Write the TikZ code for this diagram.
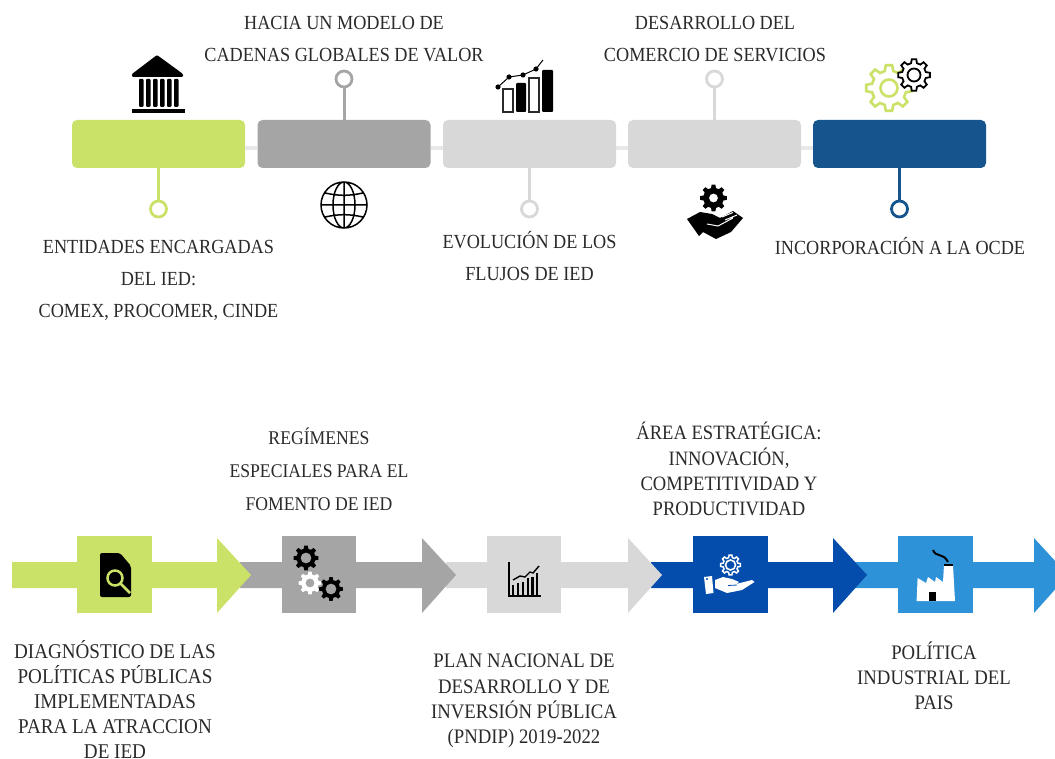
\documentclass[tikz,border=0pt]{standalone}
\usepackage{fontspec}
\setmainfont[FakeStretch=0.91]{Liberation Serif}
\usetikzlibrary{calc}
\definecolor{limeg}{HTML}{CBE268}
\definecolor{midg}{HTML}{A5A5A5}
\definecolor{paleg}{HTML}{D8D8D8}
\definecolor{navyb}{HTML}{15548C}
\definecolor{royalb}{HTML}{044DAD}
\definecolor{skyb}{HTML}{2E92D8}
\definecolor{inkc}{HTML}{2A2A2A}
\tikzset{
  card/.style={fill=#1, rounded corners=5pt, minimum width=173pt, minimum height=48pt, inner sep=0pt},
  sq/.style={fill=#1, minimum width=74.5pt, minimum height=77pt, inner sep=0pt},
  pin/.style={draw=#1, fill=white, circle, line width=2.8pt, minimum size=16pt, inner sep=0pt},
  stem/.style={draw=#1, line width=3pt},
  lnk/.style={draw=paleg!60, line width=4pt},
  lbltop/.style={text=inkc, align=center, font=\fontsize{20}{32}\selectfont},
  lblbot/.style={text=inkc, align=center, font=\fontsize{#1}{25.2}\selectfont}
}
% one gear wheel: style, x, y, radius, hole
\newcommand\gearwheel[5]{\path[#1, even odd rule, shift={(#2,#3)}] (-14:.76*#4)
  \foreach \k in {0,...,7} { -- ({\k*45-14}:.76*#4) -- ({\k*45-8}:#4) -- ({\k*45+8}:#4) -- ({\k*45+14}:.76*#4) } -- cycle
  (0,0) circle[radius=#5];}
% band with a head, drawn from the right so heads lie on the next band
\newcommand\bandarrow[4]{\fill[#4] (#1,562) -- (#2,562) -- (#2,538) -- (#3,575) -- (#2,613) -- (#2,588) -- (#1,588) -- cycle;}
\begin{document}
\begin{tikzpicture}[x=1pt, y=-1pt]
\useasboundingbox (0,0) rectangle (1055,759);
\clip (0,0) rectangle (1055,759);
% upper row
\node[card=limeg] (c1) at (158.5,144) {};
\node[card=midg] (c2) at (344,144) {};
\node[card=paleg] (c3) at (529.5,144) {};
\node[card=paleg] (c4) at (714.5,144) {};
\node[card=navyb] (c5) at (899.5,144) {};
\draw[lnk] ([yshift=-4pt]c1.east) -- ([yshift=-4pt]c2.west);
\draw[lnk] ([yshift=-4pt]c2.east) -- ([yshift=-4pt]c3.west);
\draw[lnk] ([yshift=-4pt]c3.east) -- ([yshift=-4pt]c4.west);
\draw[lnk] ([yshift=-4pt]c4.east) -- ([yshift=-4pt]c5.west);
\node[pin=limeg] (p1) at (158.5,209) {};
\node[pin=midg] (p2) at (344,79) {};
\node[pin=paleg] (p3) at (529.5,209) {};
\node[pin=paleg] (p4) at (714.5,79) {};
\node[pin=navyb] (p5) at (899.5,209) {};
\draw[stem=limeg] (c1.south) -- (p1);
\draw[stem=midg] (c2.north) -- (p2);
\draw[stem=paleg] (c3.south) -- (p3);
\draw[stem=paleg] (c4.north) -- (p4);
\draw[stem=navyb] (c5.south) -- (p5);
\node[lbltop] (t2) at (344,39) {HACIA UN MODELO DE\\CADENAS GLOBALES DE VALOR};
\node[lbltop] (t4) at (715,39) {DESARROLLO DEL\\COMERCIO DE SERVICIOS};
\node[lbltop] (t1) at (158.5,280.5) {ENTIDADES ENCARGADAS\\DEL IED:\\COMEX, PROCOMER, CINDE};
\node[lbltop] (t3) at (529.5,256.5) {EVOLUCIÓN DE LOS\\FLUJOS DE IED};
\node[lbltop] (t5) at (900,246) {INCORPORACIÓN A LA OCDE};
% bank
\fill[rounded corners=1pt] (157,55) -- (183,74) -- (183,77) -- (132,77) -- (132,74) -- cycle;
\foreach \x in {139,146,153,160,167,174} \fill[rounded corners=1pt] (\x,79) rectangle +(4.5,28);
\fill (132,109.5) rectangle (185,113.5);
% globe
\draw[line width=1.5pt] (344,205) circle[radius=23] (344,182) -- (344,228) (321,205) -- (367,205)
  (344,205) ellipse[x radius=11, y radius=23]
  (325,193) to[bend right=12] (363,193) (325,217) to[bend left=12] (363,217);
% bars
\draw[draw=inkc, line width=1.4pt] (503,89) rectangle (513,112) (529,78) rectangle (539,112);
\fill[rounded corners=1pt] (516,83) rectangle (526,112) (542,70) rectangle (553,112);
\draw[line width=1pt] (498,87) -- (509,77) -- (523,75) -- (536,69) -- (543,60);
\foreach \x/\y in {498/87,509/77,523/75,536/69} \fill (\x,\y) circle[radius=2.6];
% hand under gear
\gearwheel{fill=black}{713.5}{198}{13.5}{4.5}
\fill (687,219) -- (700,212) -- (712,214) -- (720,218) -- (733,211) -- (743,218) -- (731,232)
  -- (716,239) -- (703,232) -- (699,236) -- cycle;
\draw[white, line width=1pt] (707,224) -- (718,226) -- (733,218) (722,217) -- (733,212.5) (725,220) -- (737,215);
% two gears
\gearwheel{draw=limeg, fill=white, line width=2.6pt}{889}{88}{23}{8.5}
\gearwheel{draw=black, fill=white, line width=1.8pt}{914}{75}{16}{6.5}
% lower row, from the right
\bandarrow{855}{1034}{1068}{skyb}
\bandarrow{651}{833}{867}{royalb}
\bandarrow{446}{628}{662}{paleg}
\bandarrow{240}{422}{456}{midg}
\bandarrow{12}{217}{251}{limeg}
\node[sq=limeg] (s1) at (114.5,574.5) {};
\node[sq=midg] (s2) at (319,574.5) {};
\node[sq=paleg] (s3) at (524,574.5) {};
\node[sq=royalb] (s4) at (730.5,574.5) {};
\node[sq=skyb] (s5) at (935.5,574.5) {};
% document
\fill[rounded corners=2pt] (100,553) -- (120,553) -- (131,566) -- (131,597) -- (100,597) -- cycle;
\draw[limeg, line width=2.5pt] (115,578) circle[radius=7.5] (120.5,583.5) -- (130,593);
% three gears
\gearwheel{fill=black}{306}{558}{12.5}{5.5}
\gearwheel{fill=white}{310}{583}{11.5}{4.5}
\gearwheel{fill=black}{331}{589}{12}{5.5}
% chart
\draw[line width=1.5pt] (509,562) -- (509,596) -- (541,596);
\foreach \x/\y in {513/585,518/583,523/582,528/578,532.5/577,537/573} \draw[line width=2.4pt] (\x,\y) -- (\x,596);
\draw[line width=1.4pt] (513,580) -- (520,576) -- (525,577) -- (530,572) -- (533,573) -- (539,566);
% open hand
\gearwheel{draw=white, fill=none, line width=1.5pt}{730.5}{565}{10}{0}
\draw[white, line width=1.6pt] (730.5,565) circle[radius=5];
\fill[white] (704,577) -- (712,576) -- (713.5,593) -- (706,594) -- cycle;
\fill[royalb] (707,579) circle[radius=1.2];
\fill[white] (715,580) -- (723,577) -- (732,579) -- (739,582) -- (736,584) -- (752,580) -- (754.5,582)
  -- (742,590) -- (727,593) -- (715,588) -- cycle;
\draw[royalb, line width=.8pt] (728,585.5) -- (737,585);
% factory
\fill[white] (916.6,601) -- (917.6,578) -- (926,583) -- (928,577) -- (935,582) -- (936,577) -- (943,582) -- (944,565) -- (953,565) -- (955,601) -- cycle;
\fill (928.5,592) rectangle (936,601);
\fill (944,563.7) rectangle (953,566);
\draw[line width=2pt] (933,550) .. controls (936,558) and (943,552) .. (948,562);
% lower labels
\node[lblbot=19.4, font=\fontsize{19.4}{33}\selectfont] (l2) at (319,469) {REGÍMENES\\ESPECIALES PARA EL\\FOMENTO DE IED};
\node[lblbot=20.4] (l4) at (729,469) {ÁREA ESTRATÉGICA:\\INNOVACIÓN,\\COMPETITIVIDAD Y\\PRODUCTIVIDAD};
\node[lblbot=21] (l1) at (115,699.5) {DIAGNÓSTICO DE LAS\\POLÍTICAS PÚBLICAS\\IMPLEMENTADAS\\PARA LA ATRACCION\\DE IED};
\node[lblbot=20.6] (l3) at (524,701) {PLAN NACIONAL DE\\DESARROLLO Y DE\\INVERSIÓN PÚBLICA\\(PNDIP) 2019-2022};
\node[lblbot=20.6] (l5) at (934,676) {POLÍTICA\\INDUSTRIAL DEL\\PAIS};
\end{tikzpicture}
\end{document}
